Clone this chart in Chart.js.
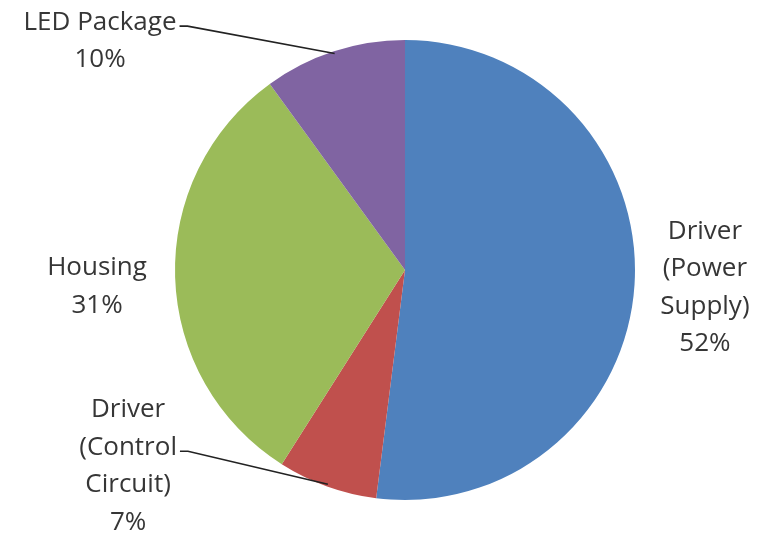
<!DOCTYPE html>
<html>
<head>
<meta charset="utf-8">
<script src="https://cdn.jsdelivr.net/npm/chart.js@4"></script>
<style>
  html, body { margin: 0; padding: 0; background: #fff; }
  #wrap { width: 762px; height: 544px; }
</style>
</head>
<body>
<div id="wrap"><canvas id="pie" width="762" height="544"></canvas></div>
<script>
// Cost breakdown of an LED luminaire, clockwise from 12 o'clock
const categories = ['Driver (Power Supply)', 'Driver (Control Circuit)', 'Housing', 'LED Package'];
const shares = [52, 7, 31, 10];
const labelLines = [
  ['Driver', '(Power', 'Supply)', '52%'],
  ['Driver', '(Control', 'Circuit)', '7%'],
  ['Housing', '31%'],
  ['LED Package', '10%'],
];
const sliceColors = ['#4f81bd', '#c0504d', '#9bbb59', '#8064a2'];

// Where each label block sits, in radii from the pie centre,
// and which text line (if any) the leader line starts from.
const labelPlacement = [
  { dx: 1.304, dy: 0.076, leader: null },
  { dx: -1.204, dy: 0.852, leader: 1 },
  { dx: -1.339, dy: 0.072, leader: null },
  { dx: -1.326, dy: -0.996, leader: 0 },
];

const FONT = '500 26px "Open Sans", Lato, sans-serif';
const LINE_H = 37.5;

const outsideLabels = {
  id: 'outsideLabels',
  afterDatasetsDraw(chart) {
    const ctx = chart.ctx;
    const arcs = chart.getDatasetMeta(0).data;
    ctx.save();
    ctx.font = FONT;
    ctx.fillStyle = '#363636';
    ctx.textAlign = 'center';
    ctx.textBaseline = 'middle';
    arcs.forEach((arc, i) => {
      const { x, y, startAngle, endAngle, outerRadius } = arc.getProps(
        ['x', 'y', 'startAngle', 'endAngle', 'outerRadius'], true);
      const place = labelPlacement[i];
      const lines = labelLines[i];
      const cx = x + place.dx * outerRadius;
      const cy = y + place.dy * outerRadius;
      const top = cy - (lines.length - 1) * LINE_H / 2;
      lines.forEach((t, k) => ctx.fillText(t, cx, top + k * LINE_H));

      if (place.leader !== null) {
        const mid = (startAngle + endAngle) / 2;
        const ex = x + Math.cos(mid) * outerRadius * 0.99;
        const ey = y + Math.sin(mid) * outerRadius * 0.99;
        const w = ctx.measureText(lines[place.leader]).width;
        const sx = cx + w / 2 + 3;
        const sy = top + place.leader * LINE_H + 4;
        ctx.strokeStyle = '#222';
        ctx.lineWidth = 1.6;
        ctx.beginPath();
        ctx.moveTo(sx, sy);
        ctx.lineTo(sx + 8, sy);
        ctx.lineTo(ex, ey);
        ctx.stroke();
      }
    });
    ctx.restore();
  },
};

new Chart(document.getElementById('pie'), {
  type: 'pie',
  data: {
    labels: categories,
    datasets: [{
      data: shares,
      backgroundColor: sliceColors,
      borderWidth: 0,
    }],
  },
  options: {
    responsive: false,
    animation: false,
    layout: { padding: { top: 40, bottom: 44, left: 175, right: 127 } },
    plugins: {
      legend: { display: false },
      tooltip: { enabled: false },
    },
  },
  plugins: [outsideLabels],
});
</script>
</body>
</html>
